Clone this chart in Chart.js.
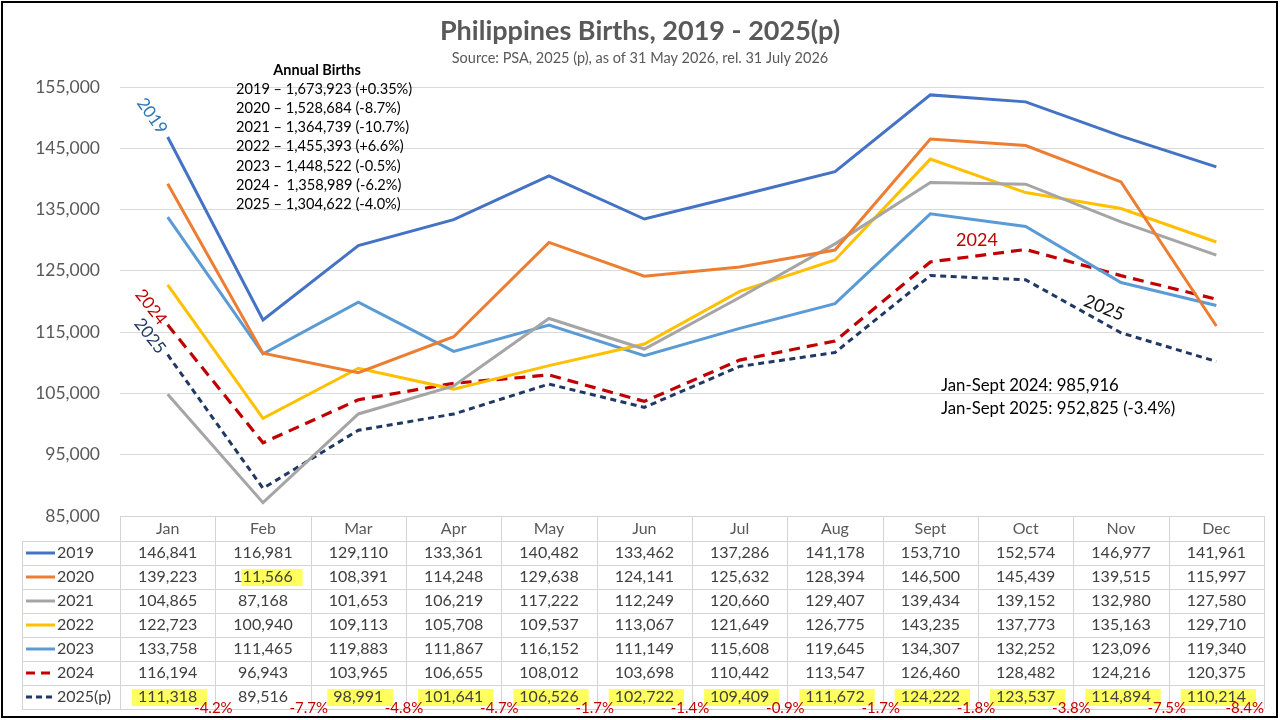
<!DOCTYPE html>
<html>
<head>
<meta charset="utf-8">
<script src="https://cdn.jsdelivr.net/npm/chart.js@4.4.1/dist/chart.umd.min.js"></script>
<style>
html,body{margin:0;padding:0;background:#fff;}
#wrap{width:1280px;height:720px;position:relative;}
canvas{display:block;}
</style>
</head>
<body>
<div id="wrap"><canvas id="c" width="1280" height="720"></canvas></div>
<script>
// ---------- DATA ----------
const months = ['Jan','Feb','Mar','Apr','May','Jun','Jul','Aug','Sept','Oct','Nov','Dec'];
const seriesNames = ['2019','2020','2021','2022','2023','2024','2025(p)'];
const births2019 = [146841,116981,129110,133361,140482,133462,137286,141178,153710,152574,146977,141961];
const births2020 = [139223,111566,108391,114248,129638,124141,125632,128394,146500,145439,139515,115997];
const births2021 = [104865,87168,101653,106219,117222,112249,120660,129407,139434,139152,132980,127580];
const births2022 = [122723,100940,109113,105708,109537,113067,121649,126775,143235,137773,135163,129710];
const births2023 = [133758,111465,119883,111867,116152,111149,115608,119645,134307,132252,123096,119340];
const births2024 = [116194,96943,103965,106655,108012,103698,110442,113547,126460,128482,124216,120375];
const births2025 = [111318,89516,98991,101641,106526,102722,109409,111672,124222,123537,114894,110214];
const change2025 = ['-4.2%','-7.7%','-4.8%','-4.7%','-1.7%','-1.4%','-0.9%','-1.7%','-1.8%','-3.8%','-7.5%','-8.4%'];
const yTickMin = 85000, yTickMax = 155000, yTickStep = 10000;
const annualTitle = 'Annual Births';
const annualLines = [
  '2019 \u2013 1,673,923 (+0.35%)',
  '2020 \u2013 1,528,684 (-8.7%)',
  '2021 \u2013 1,364,739 (-10.7%)',
  '2022 \u2013 1,455,393 (+6.6%)',
  '2023 \u2013 1,448,522 (-0.5%)',
  '2024 -  1,358,989 (-6.2%)',
  '2025 \u2013 1,304,622 (-4.0%)'
];
const janSeptNotes = ['Jan-Sept 2024: 985,916','Jan-Sept 2025: 952,825 (-3.4%)'];
// highlighted table cells: [seriesIndex, monthIndex]
const highlightedCells = [[1,1],[6,0],[6,2],[6,3],[6,4],[6,5],[6,6],[6,7],[6,8],[6,9],[6,10],[6,11]];

// ---------- STYLE ----------
const FONT = 'Lato, "Open Sans", sans-serif';
const styles = [
  {color:'#4472C4', dash:[], width:3},
  {color:'#ED7D31', dash:[], width:3},
  {color:'#A5A5A5', dash:[], width:3},
  {color:'#FFC000', dash:[], width:3},
  {color:'#5B9BD5', dash:[], width:3},
  {color:'#C00000', dash:[11,7], width:3.2},
  {color:'#203864', dash:[6,4.5], width:3}
];
const allSeries = [births2019,births2020,births2021,births2022,births2023,births2024,births2025];

const datasets = allSeries.map((d,i)=>({
  label: seriesNames[i],
  data: d,
  borderColor: styles[i].color,
  backgroundColor: styles[i].color,
  borderDash: styles[i].dash,
  borderWidth: styles[i].width,
  pointRadius: 0,
  tension: 0,
  fill: false,
  borderCapStyle: 'butt'
}));

const TABLE_TOP = 516, HEADER_H = 25, ROW_H = 24, LEG_LEFT = 22;

const decorPlugin = {
  id: 'decor',
  afterDraw(chart){
    const ctx = chart.ctx;
    const xs = chart.scales.x;
    const area = chart.chartArea;
    const n = months.length;
    const step = (area.right - area.left) / n;
    ctx.save();
    // Title
    ctx.textAlign = 'center';
    ctx.textBaseline = 'middle';
    ctx.fillStyle = '#595959';
    ctx.font = 'bold 27px ' + FONT;
    ctx.fillText('Philippines Births, 2019 - 2025(p)', 640, 31);
    ctx.font = '14.5px ' + FONT;
    ctx.fillText('Source: PSA, 2025 (p), as of 31 May 2026, rel. 31 July 2026', 640, 58);

    // Annual births block
    ctx.fillStyle = '#000';
    ctx.font = 'bold 14.5px ' + FONT;
    ctx.fillText(annualTitle, 317, 70);
    ctx.font = '14.6px ' + FONT;
    ctx.textAlign = 'left';
    annualLines.forEach((t,i)=> ctx.fillText(t, 236, 89 + i*19.2));

    // Jan-Sept notes
    ctx.font = '16.8px ' + FONT;
    ctx.fillText(janSeptNotes[0], 941, 386);
    ctx.fillText(janSeptNotes[1], 941, 409);

    // Line labels
    function rotText(t, x, y, ang, color, size){
      ctx.save();
      ctx.translate(x,y);
      ctx.rotate(ang*Math.PI/180);
      ctx.fillStyle = color;
      ctx.font = size + 'px ' + FONT;
      ctx.textAlign = 'center';
      ctx.textBaseline = 'middle';
      ctx.fillText(t,0,0);
      ctx.restore();
    }
    rotText('2019', 152, 116, 55, '#2E75B6', 17);
    rotText('2024', 151, 307, 52, '#C00000', 17);
    rotText('2025', 150, 336, 52, '#203864', 17);
    rotText('2024', 977, 240, 0, '#C00000', 18);
    rotText('2025', 1104, 308, 22, '#111', 18);

    // ---------- Table ----------
    const tBottom = TABLE_TOP + HEADER_H + ROW_H*seriesNames.length;
    // highlights
    ctx.font = '16px ' + FONT;
    ctx.fillStyle = 'rgba(255,255,40,0.75)';
    highlightedCells.forEach(([r,c])=>{
      const cx = xs.getPixelForValue(c);
      const cy = TABLE_TOP + HEADER_H + ROW_H*r + ROW_H/2;
      const txt = allSeries[r][c].toLocaleString('en-US');
      const w = ctx.measureText(txt).width;
      let x0 = cx - w/2 - 6, x1 = cx + w/2 + 10;
      if (r === 1) x0 = cx - w/2 + 8;
      ctx.fillRect(x0, cy - 8, x1 - x0, 17);
    });

    // grid lines of table
    ctx.strokeStyle = '#d4d4d4';
    ctx.lineWidth = 1;
    ctx.beginPath();
    ctx.moveTo(area.left, TABLE_TOP + 0.5); ctx.lineTo(area.right, TABLE_TOP + 0.5);
    for (let r=0; r<=seriesNames.length; r++){
      const y = Math.round(TABLE_TOP + HEADER_H + ROW_H*r) + 0.5;
      ctx.moveTo(LEG_LEFT, y); ctx.lineTo(area.right, y);
    }
    for (let c=0; c<=n; c++){
      const x = Math.round(area.left + step*c) + 0.5;
      ctx.moveTo(x, TABLE_TOP); ctx.lineTo(x, tBottom);
    }
    ctx.moveTo(LEG_LEFT + 0.5, TABLE_TOP + HEADER_H); ctx.lineTo(LEG_LEFT + 0.5, tBottom);
    ctx.stroke();

    // header
    ctx.textAlign = 'center';
    ctx.textBaseline = 'middle';
    ctx.fillStyle = '#595959';
    ctx.font = '16px ' + FONT;
    months.forEach((m,c)=> ctx.fillText(m, xs.getPixelForValue(c), TABLE_TOP + 13));

    // rows
    seriesNames.forEach((name,r)=>{
      const cy = TABLE_TOP + HEADER_H + ROW_H*r + ROW_H/2;
      // legend sample
      ctx.save();
      ctx.strokeStyle = styles[r].color;
      ctx.lineWidth = 3;
      ctx.setLineDash(r===5 ? [9,6] : (r===6 ? [6,4] : []));
      ctx.beginPath();
      ctx.moveTo(26, cy); ctx.lineTo(55, cy);
      ctx.stroke();
      ctx.restore();
      ctx.fillStyle = '#404040';
      ctx.textAlign = 'left';
      ctx.fillText(name, 57, cy);
      ctx.textAlign = 'center';
      allSeries[r].forEach((v,c)=>{
        ctx.fillText(v.toLocaleString('en-US'), xs.getPixelForValue(c), cy);
      });
    });

    // % change labels
    ctx.fillStyle = '#C00000';
    ctx.font = '15px ' + FONT;
    change2025.forEach((t,c)=>{
      const w = ctx.measureText(t).width;
      let x = xs.getPixelForValue(c) + step/2 - 2;
      x = Math.min(x, area.right - w/2);
      ctx.fillText(t, x, tBottom - 1);
    });

    // outer border
    ctx.strokeStyle = '#000';
    ctx.lineWidth = 2;
    ctx.strokeRect(2, 2, 1275, 715);
    ctx.restore();
  }
};

new Chart(document.getElementById('c'), {
  type: 'line',
  data: { labels: months, datasets },
  options: {
    responsive: false,
    animation: false,
    devicePixelRatio: 1,
    layout: { padding: { top: 87, right: 16, bottom: 204, left: 0 } },
    plugins: { legend: { display: false }, tooltip: { enabled: false }, title: { display: false } },
    scales: {
      x: { type: 'category', display: false, offset: true },
      y: {
        min: yTickMin, max: yTickMax,
        afterFit(scale){ scale.width = 120; },
        border: { display: false },
        grid: { color: '#d9d9d9', lineWidth: 1, drawTicks: false },
        ticks: {
          stepSize: yTickStep,
          padding: 20,
          color: '#595959',
          font: { family: FONT, size: 17.5 },
          callback: v => v.toLocaleString('en-US')
        }
      }
    }
  },
  plugins: [decorPlugin]
});
</script>
</body>
</html>
